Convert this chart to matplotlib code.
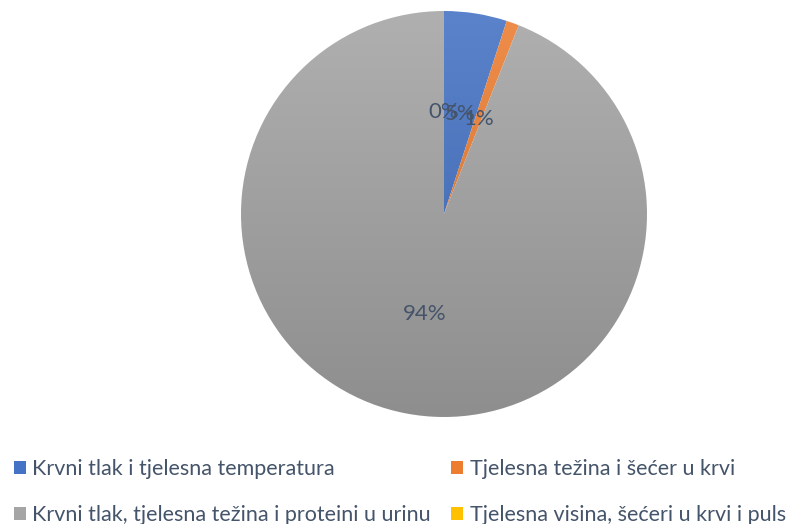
import matplotlib.pyplot as plt
import numpy as np
from matplotlib.colors import to_rgb

labels = ['Krvni tlak i tjelesna temperatura',
          'Tjelesna težina i šećer u krvi',
          'Krvni tlak, tjelesna težina i proteini u urinu',
          'Tjelesna visina, šećeri u krvi i puls']
values = [5, 1, 94, 0]
colors = ['#4472C4', '#ED7D31', '#A5A5A5', '#FFC000']
txt = '#44546A'

plt.rcParams['font.family'] = ['Lato', 'DejaVu Sans']

fig = plt.figure(figsize=(8, 5.24), dpi=100)
W, H = 800, 524
cx, cy, r = 444, 214, 203
ax = fig.add_axes([(cx - r) / W, (H - cy - r) / H, 2 * r / W, 2 * r / H])

wedges, texts, autotexts = ax.pie(values, colors=colors, startangle=90,
                                  counterclock=False, autopct='%1.0f%%',
                                  pctdistance=0.5, radius=1,
                                  textprops={'fontsize': 16, 'color': txt})

# vertical gradient like the Excel fill
yy = np.linspace(1, 0, 256)[:, None]
for w, c in zip(wedges, colors):
    base = np.array(to_rgb(c))
    top = base + (1 - base) * 0.12
    bot = base * 0.86
    grad = top[None, None, :] * yy[..., None] + bot[None, None, :] * (1 - yy[..., None])
    grad = np.repeat(grad, 2, axis=1)
    im = ax.imshow(grad, extent=(-1, 1, -1, 1), zorder=w.get_zorder(), aspect='auto')
    im.set_clip_path(w)
    w.set_facecolor('none')
    w.set_edgecolor('none')
for t in autotexts:
    t.set_zorder(5)

ax.set_xlim(-1, 1)
ax.set_ylim(-1, 1)
ax.set_aspect('equal')
ax.axis('off')

# legend filled row by row
order = [0, 2, 1, 3]
leg = fig.legend([wedges[i] for i in order], [labels[i] for i in order],
                 loc='lower left', bbox_to_anchor=(0.0175, -0.002),
                 ncol=2, frameon=False, fontsize=15.5, labelcolor=txt,
                 handlelength=0.55, handleheight=0.55, handletextpad=0.3,
                 columnspacing=0.95, labelspacing=1.2,
                 borderpad=0, borderaxespad=0)
for h, i in zip(leg.legend_handles, order):
    h.set_facecolor(colors[i])
    h.set_edgecolor('none')

fig.savefig('out.png', dpi=100)
